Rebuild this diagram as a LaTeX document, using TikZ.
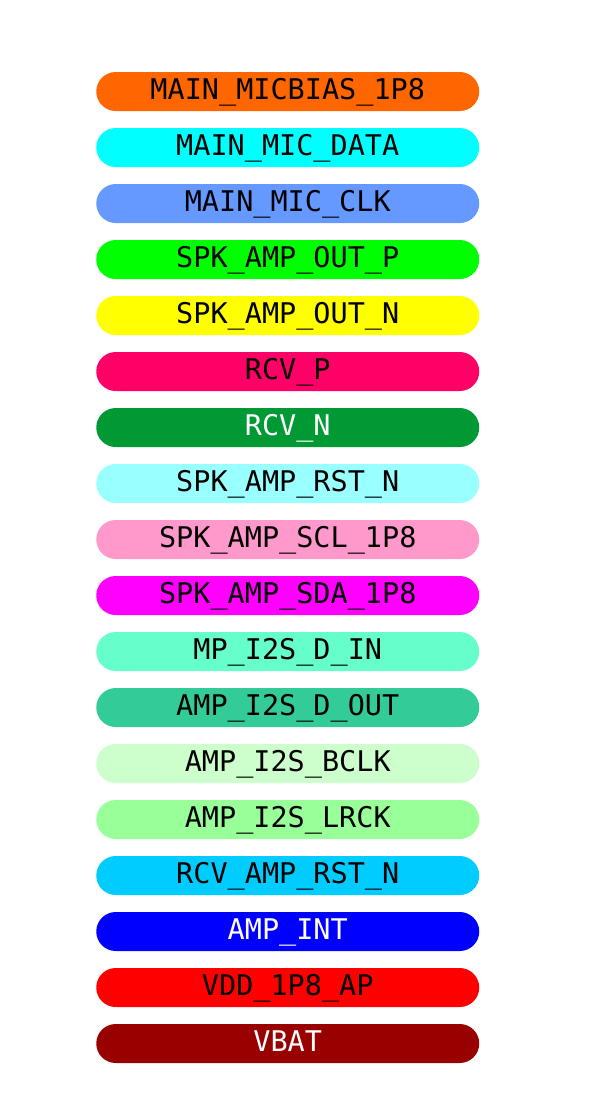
\documentclass[tikz,border=0pt]{standalone}
\usepackage{tikz}
\usepackage{xcolor}
\usepackage{fontspec}
\setmonofont{DejaVu Sans Mono}
\usetikzlibrary{shapes.misc, positioning}
\definecolor{orangeA}{HTML}{FF6600}
\definecolor{cyanA}{HTML}{00FFFF}
\definecolor{blueA}{HTML}{6699FF}
\definecolor{greenA}{HTML}{00FF00}
\definecolor{yellowA}{HTML}{FFFF00}
\definecolor{roseA}{HTML}{FF0066}
\definecolor{darkgreen}{HTML}{009933}
\definecolor{cyanB}{HTML}{99FFFF}
\definecolor{pinkA}{HTML}{FF99CC}
\definecolor{magentaA}{HTML}{FF00FF}
\definecolor{mintA}{HTML}{66FFCC}
\definecolor{mintB}{HTML}{33CC99}
\definecolor{greenB}{HTML}{CCFFCC}
\definecolor{greenC}{HTML}{99FF99}
\definecolor{skyA}{HTML}{00CCFF}
\definecolor{blueB}{HTML}{0000FF}
\definecolor{redA}{HTML}{FF0000}
\definecolor{darkred}{HTML}{990000}
\tikzstyle{pill} = [rounded rectangle, minimum width=383pt, minimum height=39pt, inner sep=0pt, text centered, draw=none, text height=20.8pt, text depth=5pt, font=\ttfamily\fontsize{28.5}{30}\selectfont, text=black]
\tikzstyle{pilldark} = [pill, text=white]

\begin{document}
\begin{tikzpicture}[node distance=56pt]
    \useasboundingbox (0,0) rectangle (595pt,-1093pt);

        % Nodes
        \node (micbias) [pill, fill=orangeA] at (287.75pt,-91.5pt) {MAIN\_MICBIAS\_1P8};
        \node (micdata) [pill, fill=cyanA, below of=micbias] {MAIN\_MIC\_DATA};
        \node (micclk) [pill, fill=blueA, below of=micdata] {MAIN\_MIC\_CLK};
        \node (spkp) [pill, fill=greenA, below of=micclk] {SPK\_AMP\_OUT\_P};
        \node (spkn) [pill, fill=yellowA, below of=spkp] {SPK\_AMP\_OUT\_N};
        \node (rcvp) [pill, fill=roseA, below of=spkn] {RCV\_P};
        \node (rcvn) [pilldark, fill=darkgreen, below of=rcvp] {RCV\_N};
        \node (spkrst) [pill, fill=cyanB, below of=rcvn] {SPK\_AMP\_RST\_N};
        \node (spkscl) [pill, fill=pinkA, below of=spkrst] {SPK\_AMP\_SCL\_1P8};
        \node (spksda) [pill, fill=magentaA, below of=spkscl] {SPK\_AMP\_SDA\_1P8};
        \node (din) [pill, fill=mintA, below of=spksda] {MP\_I2S\_D\_IN};
        \node (dout) [pill, fill=mintB, below of=din] {AMP\_I2S\_D\_OUT};
        \node (bclk) [pill, fill=greenB, below of=dout] {AMP\_I2S\_BCLK};
        \node (lrck) [pill, fill=greenC, below of=bclk] {AMP\_I2S\_LRCK};
        \node (rcvrst) [pill, fill=skyA, below of=lrck] {RCV\_AMP\_RST\_N};
        \node (ampint) [pilldark, fill=blueB, below of=rcvrst] {AMP\_INT};
        \node (vdd) [pill, fill=redA, below of=ampint] {VDD\_1P8\_AP};
        \node (vbat) [pilldark, fill=darkred, below of=vdd] {VBAT};

    \end{tikzpicture}
\end{document}
